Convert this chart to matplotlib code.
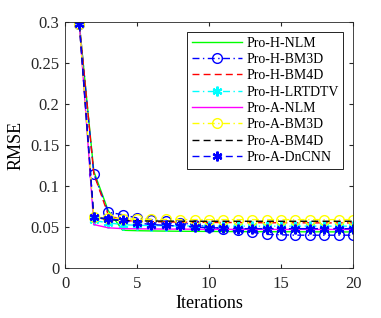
import numpy as np
import matplotlib
matplotlib.use("Agg")
import matplotlib.pyplot as plt

plt.rcParams['font.family'] = ['Liberation Serif', 'DejaVu Serif']
plt.rcParams['lines.dashed_pattern'] = [5, 3]
plt.rcParams['lines.dashdot_pattern'] = [5, 2.5, 1, 2.5]

iters = np.arange(1, 21)

h_nlm = [0.297, 0.118, 0.070, 0.046, 0.0455, 0.0452, 0.0450, 0.0448, 0.0447, 0.0446,
         0.0445, 0.0444, 0.0443, 0.0443, 0.0442, 0.0442, 0.0441, 0.0441, 0.0440, 0.0440]
h_bm3d = [0.297, 0.115, 0.068, 0.065, 0.061, 0.059, 0.057, 0.055, 0.053, 0.050,
          0.048, 0.046, 0.0435, 0.041, 0.0405, 0.0400, 0.0400, 0.0400, 0.0400, 0.0400]
h_bm4d = [0.297, 0.115, 0.065, 0.058, 0.057, 0.0565, 0.0562, 0.0560, 0.0558, 0.0556,
          0.0555, 0.0554, 0.0553, 0.0552, 0.0552, 0.0551, 0.0551, 0.0550, 0.0550, 0.0550]
h_lrtdtv = [0.297, 0.058, 0.055, 0.053, 0.052, 0.0518, 0.0515, 0.0513, 0.0512, 0.0511,
            0.0510, 0.0510, 0.0510, 0.0510, 0.0510, 0.0510, 0.0510, 0.0510, 0.0510, 0.0510]
a_nlm = [0.297, 0.053, 0.049, 0.048, 0.0478, 0.0476, 0.0475, 0.0474, 0.0473, 0.0472,
         0.0472, 0.0471, 0.0471, 0.0470, 0.0470, 0.0470, 0.0470, 0.0470, 0.0470, 0.0470]
a_bm3d = [0.297, 0.062, 0.061, 0.060, 0.0595, 0.0593, 0.0592, 0.0591, 0.0590, 0.0590,
          0.0590, 0.0590, 0.0590, 0.0590, 0.0590, 0.0590, 0.0590, 0.0590, 0.0590, 0.0590]
a_bm4d = [0.297, 0.062, 0.059, 0.058, 0.0575, 0.0573, 0.0572, 0.0571, 0.0570, 0.0570,
          0.0570, 0.0570, 0.0570, 0.0570, 0.0570, 0.0570, 0.0570, 0.0570, 0.0570, 0.0570]
a_dncnn = [0.297, 0.062, 0.060, 0.058, 0.055, 0.053, 0.052, 0.051, 0.050, 0.049,
           0.049, 0.048, 0.048, 0.048, 0.048, 0.048, 0.048, 0.048, 0.048, 0.048]

fig = plt.figure(figsize=(3.81, 3.18), dpi=100)
ax = fig.add_axes([65 / 381, 1 - 268 / 318, 288 / 381, 246 / 318])

lw = 1.0
ms = 7
star = (6, 2, 0)  # matlab-style asterisk
ax.plot(iters, h_nlm, '-', color='#00ff00', lw=lw, label='Pro-H-NLM')
ax.plot(iters, h_bm3d, '-.', color='#0000ff', lw=lw, marker='o', mfc='none', ms=ms, label='Pro-H-BM3D')
ax.plot(iters, h_bm4d, '--', color='#ff0000', lw=lw, label='Pro-H-BM4D')
ax.plot(iters, h_lrtdtv, '-.', color='#00ffff', lw=lw, marker=star, mew=1.6, ms=ms, label='Pro-H-LRTDTV')
ax.plot(iters, a_nlm, '-', color='#ff00ff', lw=lw, label='Pro-A-NLM')
ax.plot(iters, a_bm3d, '-.', color='#ffff00', lw=lw, marker='o', mfc='none', ms=ms, label='Pro-A-BM3D')
ax.plot(iters, a_bm4d, '--', color='#000000', lw=lw, label='Pro-A-BM4D')
ax.plot(iters, a_dncnn, '--', color='#0000ff', lw=lw, marker=star, mew=1.6, ms=ms, label='Pro-A-DnCNN')

ax.set_xlim(0, 20)
ax.set_ylim(0, 0.3)
ax.set_xticks([0, 5, 10, 15, 20])
ax.set_yticks([0, 0.05, 0.1, 0.15, 0.2, 0.25, 0.3])
ax.set_yticklabels(['0', '0.05', '0.1', '0.15', '0.2', '0.25', '0.3'])
ax.tick_params(direction='in', top=True, right=True, labelsize=12, length=3,
               colors='#262626', pad=4)
ax.tick_params(axis='x', pad=6)
for s in ax.spines.values():
    s.set_color('#262626')
    s.set_linewidth(0.6)
ax.set_xlabel('Iterations', fontsize=13, labelpad=2)
ax.set_ylabel('RMSE', fontsize=13, labelpad=4)

leg = ax.legend(loc='upper right', fontsize=10, handlelength=3.6, fancybox=False,
                framealpha=1, edgecolor='black', borderaxespad=0.7,
                labelspacing=0.24, borderpad=0.35, handletextpad=0.3)
leg.get_frame().set_linewidth(0.6)

fig.savefig('out.png', dpi=100)
